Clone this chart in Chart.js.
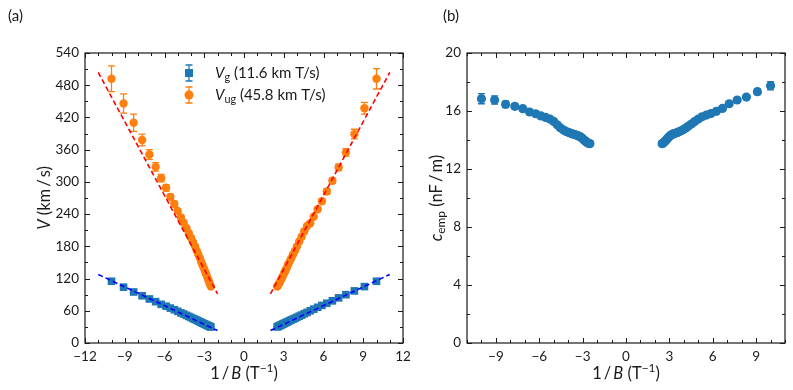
<!DOCTYPE html>
<html>
<head>
<meta charset="utf-8">
<script src="https://cdn.jsdelivr.net/npm/chart.js@4.4.1/dist/chart.umd.min.js"></script>
<style>
    body { margin: 0; background: #fff; }
    #wrap { position: relative; width: 793px; height: 390px; }
    canvas { position: absolute; top: 0; }
    #chart_a { left: 0; }
    #chart_b { left: 420px; }
</style>
</head>
<body>
<div id="wrap">
    <canvas id="chart_a" width="420" height="390"></canvas>
    <canvas id="chart_b" width="373" height="390"></canvas>
</div>
<script>
    // 1/B values (T^-1), B = 0.10 ... 0.40 T
    const invB_neg = [-10.00, -9.09, -8.33, -7.69, -7.14, -6.67, -6.25, -5.88, -5.56, -5.26, -5.00, -4.76, -4.55, -4.35, -4.17, -4.00,
        -3.85, -3.70, -3.57, -3.45, -3.33, -3.23, -3.13, -3.03, -2.94, -2.86, -2.78, -2.70, -2.63, -2.56, -2.50];
    const invB_pos = [10.00, 9.09, 8.33, 7.69, 7.14, 6.67, 6.25, 5.88, 5.56, 5.26, 5.00, 4.76, 4.55, 4.35, 4.17, 4.00,
        3.85, 3.70, 3.57, 3.45, 3.33, 3.23, 3.13, 3.03, 2.94, 2.86, 2.78, 2.70, 2.63, 2.56, 2.50];

    // panel (a): velocities (km/s)
    const vg_neg = [115, 104, 95, 88, 82, 77, 72, 68.5, 65, 62, 59, 56, 54, 51.5, 49.5, 47.5,
        45.5, 44, 42.5, 41, 39.5, 38.2, 37, 36, 35, 34, 33, 32, 31.2, 30.5, 29.8];
    const vg_pos = [115, 105, 97, 90, 84, 78.5, 74, 70, 66.5, 63, 60, 57, 54.5, 52, 50, 48,
        46, 44.5, 43, 41.5, 40, 38.8, 37.5, 36.4, 35.3, 34.3, 33.3, 32.4, 31.5, 30.7, 30];
    const vg_err_neg = [3, 2, 2, 1.5, 1.5, 1, 1, 1, 1, 1, 1, 1, 1, 1, 1, 1, 1, 1, 1, 1, 1, 1, 1, 1, 1, 1, 1, 1, 1, 1, 1];
    const vg_err_pos = [3, 2, 2, 1.5, 1.5, 1, 1, 1, 1, 1, 1, 1, 1, 1, 1, 1, 1, 1, 1, 1, 1, 1, 1, 1, 1, 1, 1, 1, 1, 1, 1];
    const vug_neg = [492, 446, 410, 378, 351, 328, 307, 289, 272, 259, 246, 234, 224, 214, 205, 196,
        188, 180, 172, 165, 158, 151, 145, 139, 133, 128, 123, 118, 113, 109, 105];
    const vug_pos = [492, 437, 389, 355, 327, 302, 282, 264, 249, 235, 223, 218, 208, 198, 189, 180,
        172, 165, 158, 152, 146, 140, 135, 130, 125, 121, 117, 113, 110, 107, 105];
    const vug_err_neg = [24, 18, 16, 11, 9, 8, 7, 6, 5, 5, 4, 4, 3, 3, 3, 3, 2, 2, 2, 2, 2, 2, 2, 2, 2, 2, 2, 2, 2, 2, 2];
    const vug_err_pos = [19, 11, 9, 7, 6, 5, 5, 4, 4, 3, 3, 3, 3, 2, 2, 2, 2, 2, 2, 2, 2, 2, 2, 2, 2, 2, 2, 2, 2, 2, 2];

    // linear fits V = k|1/B|, k = 11.6 and 45.8 km T/s
    const fit_x = [-11, -2, 0, 2, 11];
    const fit_vg = [127.6, 23.2, null, 23.2, 127.6];
    const fit_vug = [503.8, 91.6, null, 91.6, 503.8];

    // panel (b): c_emp (nF/m)
    const c_neg = [16.85, 16.76, 16.46, 16.32, 16.16, 15.93, 15.81, 15.66, 15.56, 15.44, 15.28, 15.05, 14.85, 14.70, 14.60, 14.53,
        14.48, 14.42, 14.38, 14.34, 14.30, 14.25, 14.20, 14.12, 14.04, 13.96, 13.89, 13.83, 13.79, 13.76, 13.75];
    const c_pos = [17.74, 17.33, 16.96, 16.76, 16.50, 16.18, 15.98, 15.82, 15.72, 15.60, 15.45, 15.28, 15.12, 14.98, 14.85, 14.74,
        14.65, 14.58, 14.52, 14.48, 14.44, 14.40, 14.35, 14.28, 14.18, 14.08, 14.00, 13.92, 13.84, 13.78, 13.75];
    const c_err_neg = [0.35, 0.28, 0.22, 0.18, 0.15, 0.12, 0.12, 0.1, 0.1, 0.1, 0.1, 0.1, 0.1, 0.1, 0.1, 0.1,
        0.1, 0.1, 0.1, 0.1, 0.1, 0.1, 0.1, 0.1, 0.1, 0.1, 0.1, 0.1, 0.1, 0.1, 0.1];
    const c_err_pos = [0.28, 0.2, 0.15, 0.12, 0.12, 0.1, 0.1, 0.1, 0.1, 0.1, 0.1, 0.1, 0.1, 0.1, 0.1, 0.1,
        0.1, 0.1, 0.1, 0.1, 0.1, 0.1, 0.1, 0.1, 0.1, 0.1, 0.1, 0.1, 0.1, 0.1, 0.1];

    const ticks_a_x = [-12, -9, -6, -3, 0, 3, 6, 9, 12];
    const ticks_a_y = [0, 60, 120, 180, 240, 300, 360, 420, 480, 540];
    const ticks_b_x = [-9, -6, -3, 0, 3, 6, 9];
    const ticks_b_y = [0, 4, 8, 12, 16, 20];

    const FONT = 'Lato, "Noto Sans", sans-serif';
    const BLUE = '#1f77b4';
    const ORANGE = '#ff7f0e';
    const INK = '#1a1a1a';

    const pts = (xs, ys) => xs.map((x, i) => ({x: x, y: ys[i]}));
    const minus = v => String(v).replace('-', '\u2212');

    // text with italic / sub / sup pieces
    function partFont(p, size) {
        const s = (p[1] === 'sub' || p[1] === 'sup') ? size * 0.72 : size;
        return (p[1] === 'i' ? 'italic ' : '') + s + 'px ' + FONT;
    }
    function richWidth(ctx, parts, size) {
        let w = 0;
        parts.forEach(p => { ctx.font = partFont(p, size); w += ctx.measureText(p[0]).width; });
        return w;
    }
    function drawRich(ctx, parts, x, y, size, align) {
        let cx = align === 'center' ? x - richWidth(ctx, parts, size) / 2 : x;
        ctx.textAlign = 'left';
        ctx.textBaseline = 'middle';
        parts.forEach(p => {
            ctx.font = partFont(p, size);
            let dy = 0;
            if (p[1] === 'sub') dy = size * 0.28;
            if (p[1] === 'sup') dy = -size * 0.38;
            ctx.fillText(p[0], cx, y + dy);
            cx += ctx.measureText(p[0]).width;
        });
    }

    const errorBars = {
        id: 'errorBars',
        beforeDatasetDraw(chart, args) {
            const ds = chart.data.datasets[args.index];
            if (!ds.errors) return;
            const ctx = chart.ctx, x = chart.scales.x, y = chart.scales.y;
            ctx.save();
            ctx.strokeStyle = ds.backgroundColor;
            ctx.lineWidth = 1.3;
            ds.data.forEach((p, i) => {
                const e = ds.errors[i];
                if (!e) return;
                const px = x.getPixelForValue(p.x);
                const y1 = y.getPixelForValue(p.y - e);
                const y2 = y.getPixelForValue(p.y + e);
                ctx.beginPath();
                ctx.moveTo(px, y1); ctx.lineTo(px, y2);
                ctx.moveTo(px - 3.5, y1); ctx.lineTo(px + 3.5, y1);
                ctx.moveTo(px - 3.5, y2); ctx.lineTo(px + 3.5, y2);
                ctx.stroke();
            });
            ctx.restore();
        }
    };

    // box, inward ticks on all sides, titles, panel letter, legend
    const decor = {
        id: 'decor',
        afterDraw(chart, args, o) {
            const ctx = chart.ctx, a = chart.chartArea;
            const x = chart.scales.x, y = chart.scales.y;
            ctx.save();
            ctx.strokeStyle = INK;
            ctx.lineWidth = 1;
            ctx.beginPath();
            for (let v = x.min; v <= x.max + 1e-9; v += o.xMinor) {
                const px = Math.round(x.getPixelForValue(v)) + 0.5;
                const len = o.xTicks.includes(Math.round(v)) ? 5 : 3;
                ctx.moveTo(px, a.bottom); ctx.lineTo(px, a.bottom - len);
                ctx.moveTo(px, a.top); ctx.lineTo(px, a.top + len);
            }
            for (let v = y.min; v <= y.max + 1e-9; v += o.yMinor) {
                const py = Math.round(y.getPixelForValue(v)) + 0.5;
                const len = o.yTicks.includes(v) ? 5 : 3;
                ctx.moveTo(a.left, py); ctx.lineTo(a.left + len, py);
                ctx.moveTo(a.right, py); ctx.lineTo(a.right - len, py);
            }
            ctx.stroke();
            ctx.lineWidth = 1.2;
            ctx.strokeRect(a.left, a.top, a.right - a.left, a.bottom - a.top);

            ctx.fillStyle = INK;
            drawRich(ctx, [['1\u2009/\u2009', ''], ['B', 'i'], [' (T', ''], ['\u22121', 'sup'], [')', '']],
                (a.left + a.right) / 2, 374, 16.5, 'center');
            ctx.save();
            ctx.translate(o.yTitleX, (a.top + a.bottom) / 2);
            ctx.rotate(-Math.PI / 2);
            drawRich(ctx, o.yTitle, 0, 0, 16.5, 'center');
            ctx.restore();
            drawRich(ctx, [[o.letter, '']], o.letterX, 16, 15, 'left');

            (o.legend || []).forEach(l => {
                ctx.strokeStyle = l.color;
                ctx.fillStyle = l.color;
                ctx.lineWidth = 1.3;
                ctx.beginPath();
                ctx.moveTo(l.mx, l.my - 8); ctx.lineTo(l.mx, l.my + 8);
                ctx.moveTo(l.mx - 3.5, l.my - 8); ctx.lineTo(l.mx + 3.5, l.my - 8);
                ctx.moveTo(l.mx - 3.5, l.my + 8); ctx.lineTo(l.mx + 3.5, l.my + 8);
                ctx.stroke();
                ctx.beginPath();
                if (l.shape === 'rect') ctx.rect(l.mx - 4, l.my - 4, 8, 8);
                else ctx.arc(l.mx, l.my, 4.5, 0, Math.PI * 2);
                ctx.fill();
                ctx.fillStyle = INK;
                drawRich(ctx, l.text, l.tx, l.my, 15, 'left');
            });
            ctx.restore();
        }
    };

    function axes(xMin, xMax, xTicks, yMin, yMax, yTicks, yWidth) {
        const tickFont = {family: FONT, size: 13.5};
        return {
            x: {
                type: 'linear', min: xMin, max: xMax,
                afterBuildTicks: s => { s.ticks = xTicks.map(v => ({value: v})); },
                afterFit: s => { s.height = 47; },
                grid: {display: false, drawTicks: false},
                border: {display: false},
                ticks: {color: INK, font: tickFont, padding: 6, callback: v => minus(v), maxRotation: 0}
            },
            y: {
                type: 'linear', min: yMin, max: yMax,
                afterBuildTicks: s => { s.ticks = yTicks.map(v => ({value: v})); },
                afterFit: s => { s.width = yWidth; },
                grid: {display: false, drawTicks: false},
                border: {display: false},
                ticks: {color: INK, font: tickFont, padding: 6, callback: v => minus(v)}
            }
        };
    }

    new Chart(document.getElementById('chart_a'), {
        type: 'scatter',
        data: {
            datasets: [{
                label: 'fit g',
                data: pts(fit_x, fit_vg),
                showLine: true, spanGaps: false, pointRadius: 0,
                borderColor: '#0000ff', borderWidth: 1.6, borderDash: [5, 3], order: 1
            }, {
                label: 'fit ug',
                data: pts(fit_x, fit_vug),
                showLine: true, spanGaps: false, pointRadius: 0,
                borderColor: '#ff0000', borderWidth: 1.6, borderDash: [5, 3], order: 1
            }, {
                label: 'Vg',
                data: pts(invB_neg.concat(invB_pos), vg_neg.concat(vg_pos)),
                errors: vg_err_neg.concat(vg_err_pos),
                pointStyle: 'rect', pointRadius: 5.4,
                backgroundColor: BLUE, borderColor: BLUE, borderWidth: 0, order: 3
            }, {
                label: 'Vug',
                data: pts(invB_neg.concat(invB_pos), vug_neg.concat(vug_pos)),
                errors: vug_err_neg.concat(vug_err_pos),
                pointStyle: 'circle', pointRadius: 4.2,
                backgroundColor: ORANGE, borderColor: ORANGE, borderWidth: 0, order: 2
            }]
        },
        options: {
            responsive: false,
            animation: false,
            layout: {padding: {left: 35, right: 17, top: 53, bottom: 0}},
            scales: axes(-12, 12, ticks_a_x, 0, 540, ticks_a_y, 50),
            plugins: {
                legend: {display: false},
                tooltip: {enabled: false},
                decor: {
                    xTicks: ticks_a_x, yTicks: ticks_a_y, xMinor: 1, yMinor: 30,
                    yTitle: [['V', 'i'], [' (km\u2009/\u2009s)', '']], yTitleX: 45,
                    letter: '(a)', letterX: 8,
                    legend: [
                        {color: BLUE, shape: 'rect', mx: 189, my: 73, tx: 215,
                            text: [['V', 'i'], ['g', 'sub'], [' (11.6 km T/s)', '']]},
                        {color: ORANGE, shape: 'circle', mx: 189, my: 95, tx: 215,
                            text: [['V', 'i'], ['ug', 'sub'], [' (45.8 km T/s)', '']]}
                    ]
                }
            }
        },
        plugins: [errorBars, decor]
    });

    new Chart(document.getElementById('chart_b'), {
        type: 'scatter',
        data: {
            datasets: [{
                label: 'c_emp',
                data: pts(invB_neg.concat(invB_pos), c_neg.concat(c_pos)),
                errors: c_err_neg.concat(c_err_pos),
                pointStyle: 'circle', pointRadius: 4.6,
                backgroundColor: BLUE, borderColor: BLUE, borderWidth: 0
            }]
        },
        options: {
            responsive: false,
            animation: false,
            layout: {padding: {left: 0, right: 8, top: 53, bottom: 0}},
            scales: axes(-11, 11, ticks_b_x, 0, 20, ticks_b_y, 47),
            plugins: {
                legend: {display: false},
                tooltip: {enabled: false},
                decor: {
                    xTicks: ticks_b_x, yTicks: ticks_b_y, xMinor: 1, yMinor: 2,
                    yTitle: [['c', 'i'], ['emp', 'sub'], [' (nF\u2009/\u2009m)', '']], yTitleX: 17,
                    letter: '(b)', letterX: 23
                }
            }
        },
        plugins: [errorBars, decor]
    });
</script>
</body>
</html>
